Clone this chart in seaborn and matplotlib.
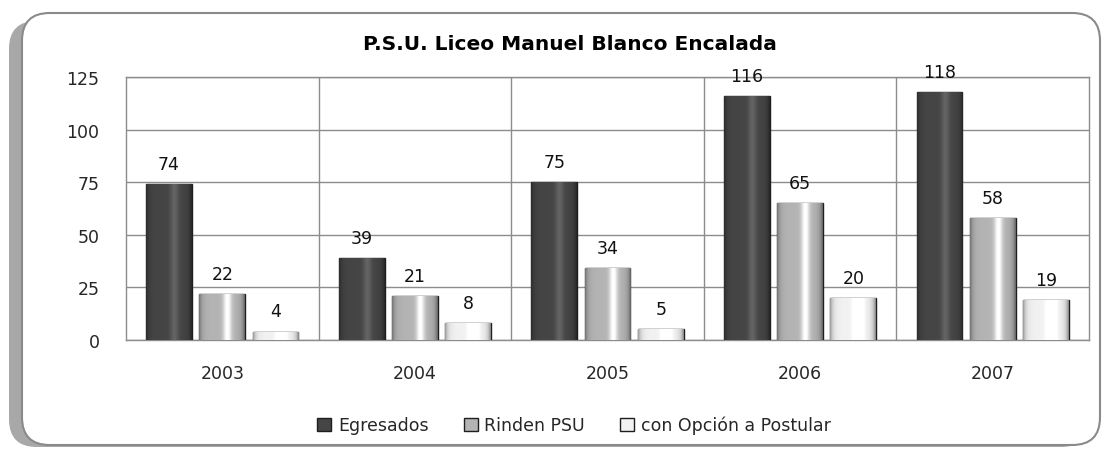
"""P.S.U. Liceo Manuel Blanco Encalada - grouped bars per year."""

import matplotlib

matplotlib.use("Agg")
import matplotlib.pyplot as plt
import numpy as np
import pandas as pd
import seaborn as sns
from matplotlib.patches import FancyBboxPatch

years = ["2003", "2004", "2005", "2006", "2007"]
series = ["Egresados", "Rinden PSU", "con Opción a Postular"]
egresados = [74, 39, 75, 116, 118]
rinden_psu = [22, 21, 34, 65, 58]
con_opcion = [4, 8, 5, 20, 19]
y_ticks = [0, 25, 50, 75, 100, 125]

colors = ["#454545", "#b4b4b4", "#f2f2f2"]

W, H = 1108, 452


def main() -> None:
    df = pd.DataFrame(
        {
            "year": years * 3,
            "serie": [s for s in series for _ in years],
            "valor": egresados + rinden_psu + con_opcion,
        }
    )

    sns.set_style("white")
    plt.rcParams["font.family"] = ["DejaVu Sans"]
    fig = plt.figure(figsize=(W / 100, H / 100), dpi=100)

    # rounded frame with a soft shadow on the left
    shadow = FancyBboxPatch(
        (9 / W, 4 / H), 1080 / W, 426 / H,
        boxstyle="round,pad=0,rounding_size=0.025",
        transform=fig.transFigure, facecolor="#a8a8a8", edgecolor="none",
        mutation_aspect=W / H, zorder=-2,
    )
    frame = FancyBboxPatch(
        (22 / W, 6 / H), 1078 / W, 432 / H,
        boxstyle="round,pad=0,rounding_size=0.025",
        transform=fig.transFigure, facecolor="white", edgecolor="#8a8a8a",
        linewidth=1.5, mutation_aspect=W / H, zorder=-1,
    )
    fig.patches.extend([shadow, frame])

    ax = fig.add_axes([126 / W, 1 - 341 / H, (1089 - 126) / W, (341 - 78) / H])
    ax.set_facecolor("none")
    sns.barplot(
        data=df, x="year", y="valor", hue="serie", hue_order=series,
        palette=colors, width=0.83, gap=0.14, ax=ax, legend=False,
        edgecolor="#1e1e1e", linewidth=1.0, zorder=3,
    )

    # bevel-like shading inside every bar: dark edges, bright streak right of centre
    grad = np.linspace(0, 1, 64)
    shade = (
        1.0
        - 0.35 * np.exp(-grad / 0.06)
        - 0.45 * np.exp(-(1 - grad) / 0.06)
        + 0.45 * np.exp(-((grad - 0.62) ** 2) / 0.008)
    )
    for patch in ax.patches:
        x0, y0 = patch.get_x(), patch.get_y()
        w, h = patch.get_width(), patch.get_height()
        fc = np.array(patch.get_facecolor()[:3])
        img = np.clip(fc[None, :] * shade[:, None], 0, 1)[None, :, :]
        im = ax.imshow(
            img, extent=(x0, x0 + w, y0, y0 + h), aspect="auto",
            zorder=3.5, interpolation="bilinear",
        )
        im.set_clip_path(patch)

    for container, vals in zip(ax.containers, [egresados, rinden_psu, con_opcion]):
        ax.bar_label(container, labels=[str(v) for v in vals], padding=8,
                     fontsize=12.5, color="#111111")

    ax.set_ylim(0, 125)
    ax.set_xlim(-0.5, len(years) - 0.5)
    ax.set_yticks(y_ticks)
    ax.set_yticklabels([str(t) for t in y_ticks], fontsize=12.5)
    ax.set_xticks(range(len(years)))
    ax.set_xticklabels(years, fontsize=12.5)
    ax.tick_params(axis="y", length=0, pad=19)
    ax.tick_params(axis="x", length=0, pad=17)
    ax.set_xlabel("")
    ax.set_ylabel("")

    for t in y_ticks:
        ax.axhline(t, color="#8c8c8c", linewidth=1.0, zorder=1)
    for b in np.arange(0.5, len(years) - 0.5, 1.0):
        ax.axvline(b, color="#8c8c8c", linewidth=1.0, zorder=1)
    for s in ax.spines.values():
        s.set_visible(True)
        s.set_color("#8c8c8c")
        s.set_linewidth(1.0)

    fig.text(570 / W, 1 - 45 / H, "P.S.U. Liceo Manuel Blanco Encalada",
             ha="center", va="center", fontsize=14.5, fontweight="bold",
             color="black")

    handles = [plt.Rectangle((0, 0), 1, 1, facecolor=c, edgecolor="#1e1e1e")
               for c in colors]
    fig.legend(handles, series, loc="center", bbox_to_anchor=(574 / W, 1 - 426 / H),
               ncol=3, frameon=False, handlelength=0.8, handleheight=0.8,
               columnspacing=2.0, handletextpad=0.4,
               prop={"family": "DejaVu Sans", "size": 12.5})

    fig.savefig("out.png", dpi=100)
    plt.close(fig)


if __name__ == "__main__":
    main()
